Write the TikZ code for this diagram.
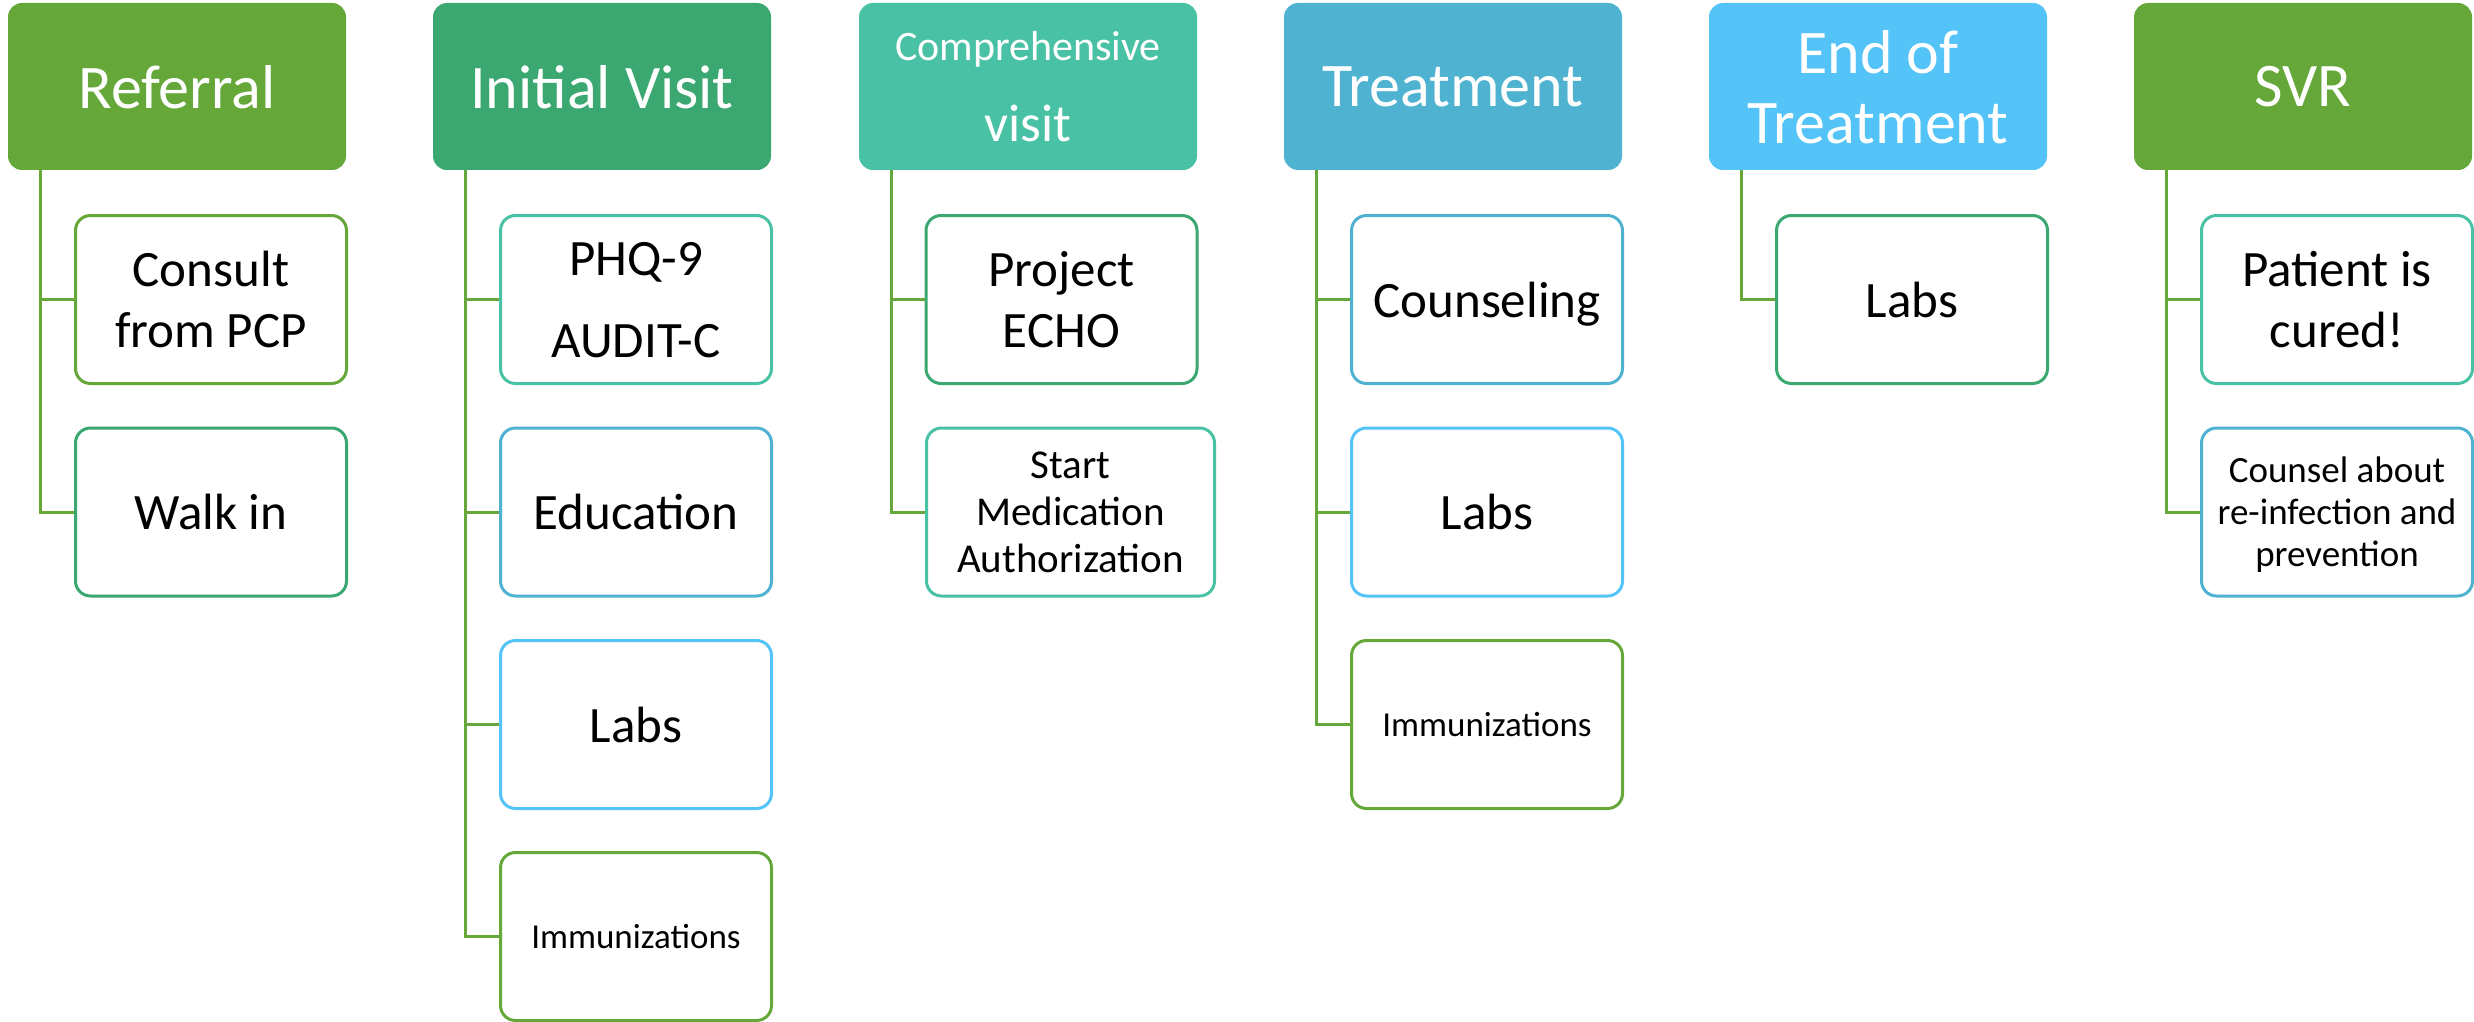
\documentclass[tikz,border=0pt]{standalone}
\usepackage{fontspec}
\setmainfont{Carlito}
\usetikzlibrary{calc}

\definecolor{cGreen}{RGB}{101,167,57}
\definecolor{cJade}{RGB}{58,168,112}
\definecolor{cTeal}{RGB}{72,193,164}
\definecolor{cBlue}{RGB}{79,178,208}
\definecolor{cSky}{RGB}{84,195,248}

\newcommand\phasefont{\fontsize{62}{70}\selectfont}
\newcommand\taskfont{\fontsize{51}{61}\selectfont}

\begin{document}
\begin{tikzpicture}[x=1pt,y=-1pt,
  phase/.style={fill=#1, draw=none, rounded corners=14pt,
    minimum width=338pt, minimum height=167pt, inner sep=0pt,
    text=white, align=center, text depth=0pt, font=\phasefont},
  task/.style={draw=#1, fill=white, line width=3pt, rounded corners=15pt,
    minimum width=271pt, minimum height=168pt, inner sep=0pt,
    text=black, align=center, text depth=0pt, font=\taskfont},
  link/.style={draw=cGreen, line width=3pt},
]
\useasboundingbox (0,0) rectangle (2474,1022);

% ---- phase headers ----
\node[phase=cGreen] (ref) at (177,86.5) {Referral};
\node[phase=cJade]  (ini) at (602,86.5) {Initial Visit};
\node[phase=cTeal, font=\fontsize{53}{81}\selectfont] (com) at (1028,86.5)
  {{\fontsize{42}{81}\selectfont Comprehensive}\\visit};
\node[phase=cBlue]  (tre) at (1453,86.5) {Treatment};
\node[phase=cSky]   (eot) at (1878,86.5) {End of\\Treatment};
\node[phase=cGreen] (svr) at (2303,86.5) {SVR};

% ---- Referral ----
\node[task=cGreen] (refa) at (211,299.5) {Consult\\from PCP};
\node[task=cJade]  (refb) at (211,512)   {Walk in};

% ---- Initial Visit ----
\node[task=cTeal, font=\fontsize{51}{82}\selectfont] (inia) at (636,299.5) {PHQ-9\\AUDIT-C};
\node[task=cBlue]  (inib) at (636,512)   {Education};
\node[task=cSky]   (inic) at (636,724.5) {Labs};
\node[task=cGreen, font=\fontsize{35}{42}\selectfont] (inid) at (636,936.5) {Immunizations};

% ---- Comprehensive visit ----
\node[task=cJade]  (coma) at (1061.5,299.5) {Project\\ECHO};
\node[task=cTeal, minimum width=288pt, font=\fontsize{41}{47}\selectfont] (comb) at (1070.5,512)
  {Start\\Medication\\Authorization};

% ---- Treatment ----
\node[task=cBlue]  (trea) at (1487,299.5) {Counseling};
\node[task=cSky]   (treb) at (1487,512)   {Labs};
\node[task=cGreen, font=\fontsize{35}{42}\selectfont] (trec) at (1487,724.5) {Immunizations};

% ---- End of Treatment ----
\node[task=cJade]  (eota) at (1912,299.5) {Labs};

% ---- SVR ----
\node[task=cTeal]  (svra) at (2337,299.5) {Patient is\\cured!};
\node[task=cBlue, font=\fontsize{37}{42}\selectfont] (svrb) at (2337,512)
  {Counsel about\\re-infection and\\prevention};

% ---- tree connectors ----
\draw[link] ($(ref.south west)+(33,0)$) coordinate (reft) |- (refb.west);
\draw[link] (reft) |- (refa.west);

\draw[link] ($(ini.south west)+(33,0)$) coordinate (init) |- (inid.west);
\draw[link] (init) |- (inia.west);
\draw[link] (init) |- (inib.west);
\draw[link] (init) |- (inic.west);

\draw[link] ($(com.south west)+(33,0)$) coordinate (comt) |- (comb.west);
\draw[link] (comt) |- (coma.west);

\draw[link] ($(tre.south west)+(33,0)$) coordinate (tret) |- (trec.west);
\draw[link] (tret) |- (trea.west);
\draw[link] (tret) |- (treb.west);

\draw[link] ($(eot.south west)+(33,0)$) |- (eota.west);

\draw[link] ($(svr.south west)+(33,0)$) coordinate (svrt) |- (svrb.west);
\draw[link] (svrt) |- (svra.west);
\end{tikzpicture}
\end{document}
